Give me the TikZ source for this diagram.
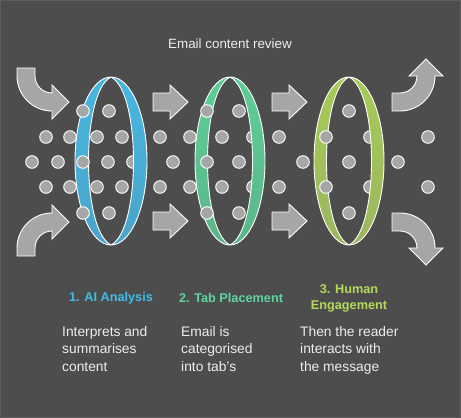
\documentclass[tikz,border=0pt]{standalone}
\usepackage{fontspec}
\setmainfont{Liberation Sans}
\definecolor{bgdark}{HTML}{4D4D4D}
\definecolor{bgedge}{HTML}{5E5E5E}
\definecolor{dotgray}{HTML}{A6A6A6}
\definecolor{blueA}{HTML}{47B7E0}
\definecolor{blueB}{HTML}{4BA4C8}
\definecolor{greenA}{HTML}{5CCE96}
\definecolor{greenB}{HTML}{5BB68A}
\definecolor{limeA}{HTML}{A6CB58}
\definecolor{limeB}{HTML}{9CB65E}
\definecolor{bluetext}{HTML}{3FBDEB}
\definecolor{greentext}{HTML}{5DD59F}
\definecolor{limetext}{HTML}{B4DA58}
\definecolor{desctext}{HTML}{EDEDED}

\tikzset{
	dot/.style={circle, draw=white, fill=dotgray, line width=0.9pt, minimum size=12.6pt, inner sep=0pt},
	arrowshape/.style={fill=dotgray, draw=white, line width=0.9pt},
	ringline/.style={draw=white, line width=0.9pt, even odd rule},
	heading/.style={font=\bfseries\fontsize{12.7}{16}\selectfont, align=center},
	desc/.style={font=\fontsize{13.8}{17.5}\selectfont, text=desctext, align=left, anchor=north west, inner sep=0pt}
}

\begin{document}
\begin{tikzpicture}[x=1pt, y=-1pt]
	\fill[bgdark] (0,0) rectangle (461,418);
	\draw[bgedge, line width=0.8pt] (0.4,0.4) rectangle (460.6,417.6);
	\useasboundingbox (0,0) rectangle (461,418);

	\node at (230,44) [text=desctext, font=\fontsize{13.4}{16}\selectfont] (title) {Email content review};

	% dots behind the front band of the rings
	\node at (133,162) [dot] (d15) {};
	\node at (253,137) [dot] (d13) {};
	\node at (253,187) [dot] (d33) {};
	\node at (370,137) [dot] (d16) {};
	\node at (370,187) [dot] (d36) {};

	% rings
	\shadedraw[ringline, top color=blueA, bottom color=blueB] (111,161) ellipse [x radius=36, y radius=84]
		(111,77) .. controls (81,92) and (81,230) .. (111,245) .. controls (141,230) and (141,92) .. (111,77);
	\shadedraw[ringline, top color=greenA, bottom color=greenB] (230,161) ellipse [x radius=35, y radius=84]
		(230,77) .. controls (200,92) and (200,230) .. (230,245) .. controls (260,230) and (260,92) .. (230,77);
	\shadedraw[ringline, top color=limeA, bottom color=limeB] (349,161) ellipse [x radius=35, y radius=84]
		(349,77) .. controls (319,92) and (319,230) .. (349,245) .. controls (379,230) and (379,92) .. (349,77);

	% dots
	\node at (83,111) [dot] (a1) {}; \node at (109,111) [dot] (a2) {}; \node at (207,111) [dot] (a3) {}; \node at (239,111) [dot] (a4) {}; \node at (349,111) [dot] (a5) {};
	\node at (46,137) [dot] (b1) {}; \node at (70,137) [dot] (b2) {}; \node at (97,137) [dot] (b3) {}; \node at (122,137) [dot] (b4) {}; \node at (160,137) [dot] (b5) {}; \node at (190,137) [dot] (b6) {}; \node at (222,137) [dot] (b7) {}; \node at (279,137) [dot] (b8) {}; \node at (326,137) [dot] (b9) {}; \node at (428,137) [dot] (b10) {};
	\node at (32,162) [dot] (c1) {}; \node at (58,162) [dot] (c2) {}; \node at (83,162) [dot] (c3) {}; \node at (108,162) [dot] (c4) {}; \node at (173,162) [dot] (c5) {}; \node at (207,162) [dot] (c6) {}; \node at (239,162) [dot] (c7) {}; \node at (303,162) [dot] (c8) {}; \node at (349,162) [dot] (c9) {}; \node at (398,162) [dot] (c10) {};
	\node at (46,187) [dot] (e1) {}; \node at (70,187) [dot] (e2) {}; \node at (97,187) [dot] (e3) {}; \node at (122,187) [dot] (e4) {}; \node at (160,187) [dot] (e5) {}; \node at (190,187) [dot] (e6) {}; \node at (222,187) [dot] (e7) {}; \node at (279,187) [dot] (e8) {}; \node at (326,187) [dot] (e9) {}; \node at (428,187) [dot] (e10) {};
	\node at (83,213) [dot] (f1) {}; \node at (109,213) [dot] (f2) {}; \node at (207,213) [dot] (f3) {}; \node at (239,213) [dot] (f4) {}; \node at (349,213) [dot] (f5) {};

	% bent arrows in and out
	\draw[arrowshape] (17,68) -- (35,68) -- (35,76) arc[start angle=180, end angle=90, radius=17] -- (52,85) -- (69,102) -- (52,119) -- (52,111) arc[start angle=90, end angle=180, radius=35] -- cycle;
	\draw[arrowshape] (17,256) -- (35,256) -- (35,248) arc[start angle=180, end angle=270, radius=17] -- (52,239) -- (69,222) -- (52,205) -- (52,213) arc[start angle=270, end angle=180, radius=35] -- cycle;
	\draw[arrowshape] (392,111) -- (392,93) -- (400,93) arc[start angle=90, end angle=0, radius=17] -- (409,76) -- (426,59) -- (443,76) -- (435,76) arc[start angle=0, end angle=90, radius=35] -- cycle;
	\draw[arrowshape] (392,213) -- (392,231) -- (400,231) arc[start angle=270, end angle=360, radius=17] -- (409,248) -- (426,265) -- (443,248) -- (435,248) arc[start angle=0, end angle=-90, radius=35] -- cycle;

	% straight arrows between rings
	\draw[arrowshape] (153,93) -- (170,93) -- (170,85) -- (188,102) -- (170,119) -- (170,111) -- (153,111) -- cycle;
	\draw[arrowshape] (272,93) -- (289,93) -- (289,85) -- (307,102) -- (289,119) -- (289,111) -- (272,111) -- cycle;
	\draw[arrowshape] (153,212) -- (170,212) -- (170,204) -- (188,221) -- (170,238) -- (170,230) -- (153,230) -- cycle;
	\draw[arrowshape] (272,212) -- (289,212) -- (289,204) -- (307,221) -- (289,238) -- (289,230) -- (272,230) -- cycle;

	% stage labels
	\node at (111,298) [heading, text=bluetext] (s1) {1. AI Analysis};
	\node at (231,298) [heading, text=greentext] (s2) {2. Tab Placement};
	\node at (349,298) [heading, text=limetext] (s3) {3. Human\\Engagement};

	\node at (62,326) [desc] (t1) {Interprets and\\summarises\\content};
	\node at (181,326) [desc] (t2) {Email is\\categorised\\into tab's};
	\node at (300,326) [desc] (t3) {Then the reader\\interacts with\\the message};
\end{tikzpicture}
\end{document}
